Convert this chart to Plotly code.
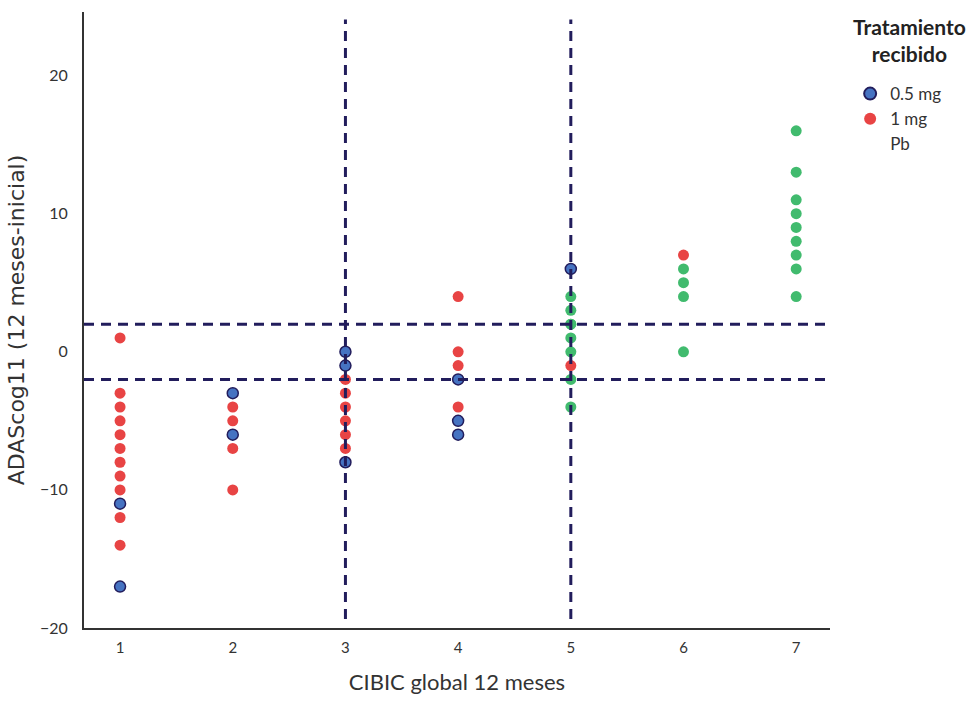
import plotly.graph_objects as go

# Data (x = CIBIC global 12 meses, y = ADAScog11 change)
x_05mg = [1, 1, 2, 2, 3, 3, 3, 4, 4, 4, 5]
y_05mg = [-11, -17, -3, -6, 0, -1, -8, -2, -5, -6, 6]

x_1mg = [1]*11 + [2]*4 + [3]*6 + [4]*4 + [5] + [6]
y_1mg = [1, -3, -4, -5, -6, -7, -8, -9, -10, -12, -14,
         -4, -5, -7, -10,
         -2, -3, -4, -5, -6, -7,
         4, 0, -1, -4,
         -1,
         7]

x_pb = [5]*8 + [6]*4 + [7]*9
y_pb = [4, 3, 2, 1, 0, -2, -4, 2,
        6, 5, 4, 0,
        16, 13, 11, 10, 9, 8, 7, 6, 4]

x_ticks = [1, 2, 3, 4, 5, 6, 7]
y_ticks = [-20, -10, 0, 10, 20]
h_lines = [2, -2]
v_lines = [3, 5]
legend_title = "Tratamiento<br>recibido"

BLUE = "#4673c2"
RED = "#e84444"
GREEN = "#41bb6e"
NAVY = "#221d5c"
FONT = "Lato"

fig = go.Figure()
fig.add_trace(go.Scatter(x=x_05mg, y=y_05mg, mode="markers", name="0.5 mg",
                         marker=dict(size=11, color=BLUE, line=dict(color=NAVY, width=1.5))))
fig.add_trace(go.Scatter(x=x_1mg, y=y_1mg, mode="markers", name="1 mg",
                         marker=dict(size=11, color=RED, line=dict(width=0))))
fig.add_trace(go.Scatter(x=x_pb, y=y_pb, mode="markers", name="Pb", showlegend=False,
                         marker=dict(size=11, color=GREEN, line=dict(width=0))))
# legend entry for Pb without a visible symbol (as in the reference)
fig.add_trace(go.Scatter(x=[None], y=[None], mode="markers", name="Pb",
                         marker=dict(size=11, color="rgba(0,0,0,0)")))

xr = [0.68, 7.3]
yr = [-20, 24.6]
for h in h_lines:
    fig.add_shape(type="line", x0=xr[0], x1=xr[1], y0=h, y1=h, xref="x", yref="y",
                  layer="above", line=dict(color=NAVY, width=3, dash="10px,7px"))
for v in v_lines:
    fig.add_shape(type="line", x0=v, x1=v, y0=-19.35, y1=24.05, xref="x", yref="y",
                  layer="above", line=dict(color=NAVY, width=3, dash="10px,7px"))

fig.add_annotation(text="<b>%s</b>" % legend_title, xref="paper", yref="paper",
                   x=1.1059, y=1.0, xanchor="center", yanchor="top", align="center",
                   showarrow=False, font=dict(family=FONT, size=21, color="#222222"))

fig.update_layout(
    width=978, height=704,
    margin=dict(l=84, r=148, t=12, b=76),
    paper_bgcolor="white", plot_bgcolor="white",
    font=dict(family=FONT, color="#333333"),
    legend=dict(x=1.027, y=0.896, xanchor="left", yanchor="top",
                font=dict(family=FONT, size=17, color="#333333"),
                tracegroupgap=0, itemsizing="constant", bgcolor="rgba(0,0,0,0)"),
    xaxis=dict(range=xr, tickvals=x_ticks, showgrid=False, zeroline=False,
               showline=True, linecolor="#333333", linewidth=2, ticks="",
               ticklabelstandoff=5,
               tickfont=dict(family=FONT, size=15, color="#333333"),
               title=dict(text="CIBIC global 12 meses", standoff=20,
                          font=dict(family=FONT, size=22, color="#333333"))),
    yaxis=dict(range=yr, tickvals=y_ticks, showgrid=False, zeroline=False,
               showline=True, linecolor="#333333", linewidth=2, ticks="",
               ticklabelstandoff=11,
               tickfont=dict(family=FONT, size=16, color="#333333"),
               title=dict(text="ADAScog11 (12 meses-inicial)", standoff=9,
                          font=dict(family="DejaVu Sans", size=22, color="#333333"))),
)

fig.write_html("out.html")
